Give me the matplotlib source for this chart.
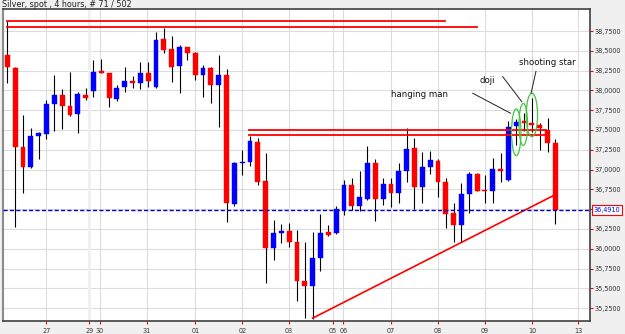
"""Silver spot 4h candlestick chart with pattern annotations."""

import matplotlib

matplotlib.use("Agg")
import matplotlib.pyplot as plt
from matplotlib.patches import Ellipse
from matplotlib.transforms import blended_transform_factory

# --- data (price per candle, 71 bars) ---
opens = [38.447, 38.279, 37.290, 37.037, 37.425, 37.450, 37.829, 37.942, 37.803, 37.702,
         37.942, 37.997, 38.245, 38.216, 37.892, 38.039, 38.119, 38.098, 38.224, 38.039,
         38.645, 38.519, 38.308, 38.544, 38.469, 38.195, 38.279, 38.068, 38.195, 36.567,
         37.080, 37.100, 37.353, 36.861, 36.007, 36.204, 36.230, 36.083, 35.595, 35.532,
         35.881, 36.217, 36.204, 36.491, 36.806, 36.541, 36.626, 37.088, 36.626, 36.819,
         36.702, 36.987, 37.270, 36.785, 37.037, 37.109, 36.848, 36.449, 36.302, 36.693,
         36.945, 36.743, 36.734, 37.005, 36.870, 37.551, 37.605, 37.585, 37.564, 37.500,
         37.333]
highs = [38.880, 38.299, 37.690, 37.522, 37.479, 37.879, 38.195, 38.014, 38.236, 37.980,
         38.034, 38.384, 38.393, 38.224, 38.068, 38.299, 38.182, 38.363, 38.363, 38.741,
         38.784, 38.687, 38.573, 38.552, 38.489, 38.321, 38.299, 38.447, 38.267, 37.100,
         37.248, 37.425, 37.396, 37.214, 36.365, 36.314, 36.323, 36.238, 36.083, 36.217,
         36.440, 36.302, 36.541, 36.870, 36.891, 36.987, 37.299, 37.131, 36.891, 36.891,
         37.088, 37.522, 37.396, 37.227, 37.240, 37.131, 36.895, 36.575, 36.828, 36.974,
         36.962, 36.933, 37.143, 37.207, 37.618, 37.636, 37.711, 37.904, 37.585, 37.648,
         37.384]
lows = [38.090, 36.280, 36.702, 37.017, 37.131, 37.383, 37.492, 37.509, 37.677, 37.459,
        37.879, 37.913, 38.216, 37.795, 37.867, 37.984, 38.027, 38.014, 38.039, 38.030,
        38.469, 38.110, 37.964, 38.384, 38.132, 37.921, 37.845, 37.542, 36.343, 36.541,
        36.933, 37.046, 36.806, 35.573, 35.860, 36.078, 36.028, 35.346, 35.124, 35.111,
        35.725, 36.163, 36.190, 36.428, 36.491, 36.482, 36.617, 36.356, 36.554, 36.525,
        36.583, 36.848, 36.500, 36.575, 36.945, 36.659, 36.260, 36.091, 36.091, 36.449,
        36.730, 36.583, 36.575, 36.848, 36.857, 37.311, 37.486, 37.479, 37.249, 37.226,
        36.314]
closes = [38.299, 37.290, 37.037, 37.425, 37.459, 37.829, 37.942, 37.803, 37.690, 37.955,
          37.901, 38.236, 38.224, 37.901, 38.034, 38.123, 38.090, 38.224, 38.119, 38.636,
          38.510, 38.299, 38.544, 38.469, 38.195, 38.279, 38.068, 38.195, 36.575, 37.080,
          37.100, 37.365, 36.848, 36.007, 36.197, 36.226, 36.091, 35.599, 35.532, 35.881,
          36.204, 36.175, 36.500, 36.806, 36.541, 36.651, 37.088, 36.626, 36.819, 36.702,
          36.987, 37.257, 36.785, 37.037, 37.122, 36.848, 36.440, 36.302, 36.689, 36.945,
          36.734, 36.727, 37.005, 36.987, 37.535, 37.605, 37.593, 37.560, 37.522, 37.333,
          36.491]

day_labels = ["27", "29", "30", "31", "01", "02", "03", "05", "06", "07", "08", "09", "10", "13"]
day_pos = [5, 10.47, 11.84, 17.84, 24, 30, 36, 41.56, 42.9, 49, 55, 61, 67, 72.9]

price_ticks = [35.25, 35.5, 35.75, 36.0, 36.25, 36.5, 36.75, 37.0, 37.25, 37.5, 37.75,
               38.0, 38.25, 38.5, 38.75]
last_price = 36.491

# drawn levels: (start bar, end bar, price)
resistance_top = [(0, 55.9, 38.880), (0, 59.95, 38.797)]
resistance_mid = [(30.87, 68.86, 37.500), (30.87, 68.86, 37.431)]
trend = ([39, 69.73], [35.124, 36.671])

# pattern marks: label, ellipse (bar, price, w, h), pointer from/to, text position
patterns = [
    ("hanging man", (65.0, 37.470, 1.2, 0.59), (59.44, 37.964), (64.27, 37.712), (52.6, 37.945)),
    ("doji", (65.9, 37.570, 1.1, 0.53), (63.27, 38.174), (65.7, 37.858), (61.3, 38.130)),
    ("shooting star", (67.0, 37.690, 1.45, 0.55), (67.52, 38.241), (66.89, 37.964), (69.0, 38.355)),
]

BLUE = "#0000ff"
RED = "#ff0000"

fig = plt.figure(figsize=(6.25, 3.34), dpi=100, facecolor="#f0f0f0")
ax = fig.add_axes([3 / 625, 1 - 321 / 334, 587 / 625, 312 / 334])
ax.set_facecolor("white")

# grid
for p in price_ticks:
    ax.axhline(p, color="#dcdcdc", lw=0.8, zorder=0)
for lbl, x in zip(day_labels, day_pos):
    if lbl == "29":
        ax.axvline(x, color="#efefef", lw=2.0, zorder=0)
    else:
        ax.axvline(x, color="#dcdcdc", lw=0.8, zorder=0)

# candles
idx = list(range(len(opens)))
ax.vlines(idx, lows, highs, color="black", lw=0.8, zorder=2)
colors = [BLUE if c >= o else RED for o, c in zip(opens, closes)]
bottoms = [min(o, c) for o, c in zip(opens, closes)]
heights = [max(abs(c - o), 0.02) for o, c in zip(opens, closes)]
ax.bar(idx, heights, bottom=bottoms, width=0.62, color=colors, edgecolor=colors,
       linewidth=0.3, zorder=3)

# levels
for x0, x1, p in resistance_top + resistance_mid:
    ax.plot([x0, x1], [p, p], color=RED, lw=1.3, zorder=4)
ax.plot(trend[0], trend[1], color=RED, lw=1.2, zorder=4)
ax.axhline(last_price, color="#0000cc", lw=1.0, ls=(0, (3, 1.6)), zorder=4)

# pattern annotations
for label, ell, p0, p1, tpos in patterns:
    cx, cy, w, h = ell
    ax.add_patch(Ellipse((cx, cy), w, h, fill=False, edgecolor="#44c444", lw=0.9, zorder=5))
    ax.plot([p0[0], p1[0]], [p0[1], p1[1]], color="#222222", lw=0.7, zorder=5)
    ax.text(tpos[0], tpos[1], label, fontsize=6.2, color="#111111", ha="center",
            va="center", zorder=6)

ax.set_xlim(-0.55, 74.42)
ax.set_ylim(35.088, 39.028)

# axes styling
ax.yaxis.tick_right()
ax.set_yticks(price_ticks)
ax.set_yticklabels([f"{p:.4f}".replace(".", ",") for p in price_ticks])
ax.set_xticks(day_pos)
ax.set_xticklabels(day_labels)
ax.tick_params(axis="y", length=2.5, width=0.8, color=RED, pad=1, labelsize=4.7,
               labelcolor="#333333")
ax.tick_params(axis="x", length=2.2, width=0.8, color=RED, pad=3, labelsize=4.7,
               labelcolor="#333333")
for side in ["top", "right", "bottom"]:
    ax.spines[side].set_color("#404040")
    ax.spines[side].set_linewidth(1.2)
ax.spines["left"].set_color("#8a8a8a")
ax.spines["left"].set_linewidth(1.5)

# last price box
tr = blended_transform_factory(ax.transAxes, ax.transData)
ax.text(1.006, last_price, f"{last_price:.4f}".replace(".", ","), transform=tr,
        fontsize=4.7, color=BLUE, ha="left", va="center", zorder=7,
        bbox=dict(boxstyle="square,pad=0.25", fc="white", ec=RED, lw=0.8))

fig.text(2 / 625, 1 - 4.5 / 334, "Silver, spot , 4 hours, # 71 / 502", fontsize=5.8,
         color="#222222", ha="left", va="center")

fig.savefig("out.png", dpi=100, facecolor=fig.get_facecolor())
plt.close(fig)
